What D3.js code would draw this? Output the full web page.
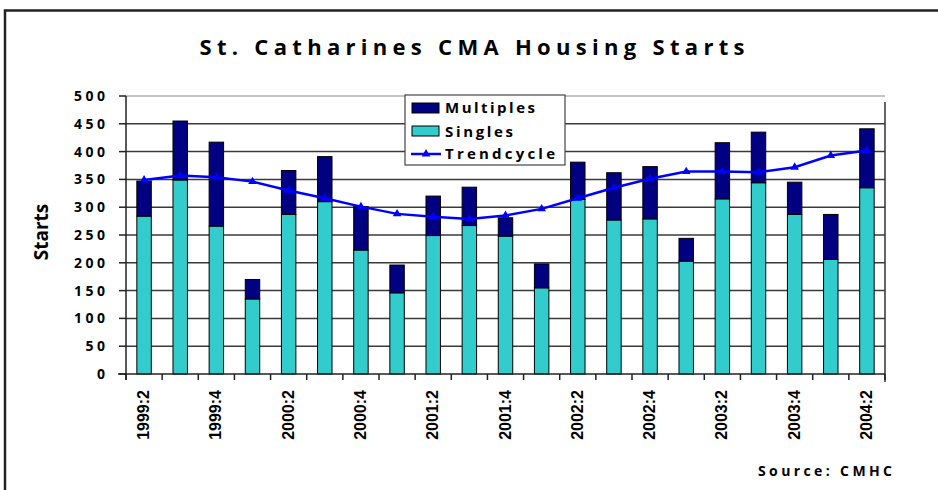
<!DOCTYPE html>
<html lang="en">
  <head>
    <meta charset="UTF-8">
    <title>St. Catharines CMA Housing Starts</title>
    <style>
      body { margin: 0; background: #fff; }
      text { font-family: "Open Sans", "Lato", sans-serif; font-weight: 700; fill: #000; }
      .grid line { stroke: #3a3a3a; stroke-width: 1.5; }
      .axis line, .axis path { stroke: #222; stroke-width: 1.5; fill: none; }
      .xlab { font-family: "Liberation Sans", Arial, sans-serif; font-size: 16px; }
      .ylab { font-size: 14px; letter-spacing: 3.5px; }
    </style>
    <script src="https://d3js.org/d3.v7.min.js"></script>
  </head>
  <body>
    <script>
      const quarters = ["1999:2","1999:3","1999:4","2000:1","2000:2","2000:3","2000:4",
        "2001:1","2001:2","2001:3","2001:4","2002:1","2002:2","2002:3","2002:4",
        "2003:1","2003:2","2003:3","2003:4","2004:1","2004:2"];
      const singles   = [284, 349, 266, 135, 287, 310, 223, 146, 249, 267, 248, 155, 314, 277, 279, 203, 315, 344, 287, 206, 335];
      const multiples = [ 63, 106, 151,  35,  79,  81,  78,  50,  71,  69,  33,  43,  67,  85,  94,  41, 101,  91,  58,  81, 106];
      const trend     = [349, 357, 354, 346, 330, 316, 301, 288, 283, 279, 285, 297, 316, 335, 351, 364, 364, 363, 372, 393, 402];
      const yTicks = [0, 50, 100, 150, 200, 250, 300, 350, 400, 450, 500];

      const W = 938, H = 490;
      const pLeft = 126, pRight = 885, pTop = 96, pBottom = 374;

      const svg = d3.select("body").append("svg")
        .attr("width", W).attr("height", H);

      // frame (top and left only)
      svg.append("path")
        .attr("d", `M5,490 L5,10.5 L938,10.5`)
        .attr("fill", "none").attr("stroke", "#222").attr("stroke-width", 2.5);

      svg.append("text")
        .attr("x", 472).attr("y", 55)
        .attr("text-anchor", "middle")
        .attr("font-size", 22)
        .attr("textLength", 545).attr("lengthAdjust", "spacing")
        .text("St. Catharines CMA Housing Starts");

      const xb = d3.scaleBand().domain(quarters).range([pLeft, pRight]).padding(0);
      const x = d3.scaleBand().domain(quarters).range([pLeft, pRight])
        .paddingInner(0.6).paddingOuter(0.3);
      const y = d3.scaleLinear().domain([0, 500]).range([pBottom, pTop]);

      // gridlines
      svg.append("g").attr("class", "grid")
        .selectAll("line").data(yTicks.filter(d => d > 0 && d < 500)).join("line")
        .attr("x1", pLeft).attr("x2", pRight)
        .attr("y1", d => y(d)).attr("y2", d => y(d));
      svg.append("line")
        .attr("x1", pLeft).attr("x2", pRight).attr("y1", y(500)).attr("y2", y(500))
        .attr("stroke", "#c4c4c4").attr("stroke-width", 2);
      svg.append("line")
        .attr("x1", pRight).attr("x2", pRight).attr("y1", 102).attr("y2", pBottom + 8)
        .attr("stroke", "#333").attr("stroke-width", 1.5);

      // y axis
      const ya = svg.append("g").attr("class", "axis");
      ya.append("line").attr("x1", pLeft).attr("x2", pLeft).attr("y1", pTop).attr("y2", pBottom + 6);
      ya.selectAll(".yt").data(yTicks).join("line")
        .attr("x1", pLeft - 7).attr("x2", pLeft)
        .attr("y1", d => y(d)).attr("y2", d => y(d));
      ya.selectAll(".ylab").data(yTicks).join("text")
        .attr("class", "ylab")
        .attr("x", 108.5).attr("y", d => y(d)).attr("dy", "0.36em")
        .attr("text-anchor", "end")
        .text(d => d);

      svg.append("text")
        .attr("transform", `translate(48,${(pTop + pBottom) / 2 - 3}) rotate(-90)`)
        .attr("text-anchor", "middle")
        .attr("font-size", 19)
        .text("Starts");

      // bars
      const bars = svg.append("g");
      bars.selectAll(".s").data(quarters).join("rect")
        .attr("x", d => x(d)).attr("width", x.bandwidth())
        .attr("y", (d, i) => y(singles[i]))
        .attr("height", (d, i) => y(0) - y(singles[i]))
        .attr("fill", "#33CCCC").attr("stroke", "#000").attr("stroke-width", 1);
      bars.selectAll(".m").data(quarters).join("rect")
        .attr("x", d => x(d)).attr("width", x.bandwidth())
        .attr("y", (d, i) => y(singles[i] + multiples[i]))
        .attr("height", (d, i) => y(singles[i]) - y(singles[i] + multiples[i]))
        .attr("fill", "#000080").attr("stroke", "#000").attr("stroke-width", 1);

      // x axis
      const xa = svg.append("g").attr("class", "axis");
      xa.append("line").attr("x1", pLeft - 8).attr("x2", pRight).attr("y1", pBottom).attr("y2", pBottom);
      const bounds = quarters.map(d => xb(d)).concat([pRight]);
      xa.selectAll(".xt").data(bounds).join("line")
        .attr("x1", d => d).attr("x2", d => d).attr("y1", pBottom).attr("y2", pBottom + 6);
      svg.selectAll(".xlab").data(quarters.filter((d, i) => i % 2 === 0)).join("text")
        .attr("class", "xlab")
        .attr("transform", d => `translate(${xb(d) + xb.bandwidth() / 2 + 5},390) rotate(-90)`)
        .attr("text-anchor", "end")
        .text(d => d);

      // trend
      const cx = d => xb(d) + xb.bandwidth() / 2;
      const line = d3.line().x((d, i) => cx(quarters[i])).y(d => y(d));
      svg.append("path").datum(trend)
        .attr("d", line)
        .attr("fill", "none").attr("stroke", "#0000FF").attr("stroke-width", 2.5);
      const tri = d3.symbol().type(d3.symbolTriangle).size(32);
      svg.selectAll(".mk").data(trend).join("path")
        .attr("d", tri)
        .attr("transform", (d, i) => `translate(${cx(quarters[i])},${y(d)})`)
        .attr("fill", "#0000FF");

      // legend
      const lg = svg.append("g");
      lg.append("rect").attr("x", 405).attr("y", 95).attr("width", 160).attr("height", 70)
        .attr("fill", "#fff").attr("stroke", "#444").attr("stroke-width", 1.2);
      lg.append("rect").attr("x", 412).attr("y", 103).attr("width", 27).attr("height", 10)
        .attr("fill", "#000080").attr("stroke", "#000");
      lg.append("rect").attr("x", 412).attr("y", 126).attr("width", 27).attr("height", 10)
        .attr("fill", "#33CCCC").attr("stroke", "#000");
      lg.append("line").attr("x1", 411).attr("x2", 441).attr("y1", 154).attr("y2", 154)
        .attr("stroke", "#0000FF").attr("stroke-width", 2.5);
      lg.append("path").attr("d", tri).attr("transform", "translate(426,154)").attr("fill", "#0000FF");
      const legTexts = [["Multiples", 113, 90], ["Singles", 137, 68], ["Trendcycle", 159, 110]];
      lg.selectAll(".lt").data(legTexts).join("text")
        .attr("x", 445).attr("y", d => d[1])
        .attr("font-size", 15)
        .attr("textLength", d => d[2]).attr("lengthAdjust", "spacing")
        .text(d => d[0]);

      svg.append("text")
        .attr("x", 758).attr("y", 476)
        .attr("font-size", 14)
        .attr("textLength", 134).attr("lengthAdjust", "spacing")
        .text("Source: CMHC");
    </script>
  </body>
</html>
